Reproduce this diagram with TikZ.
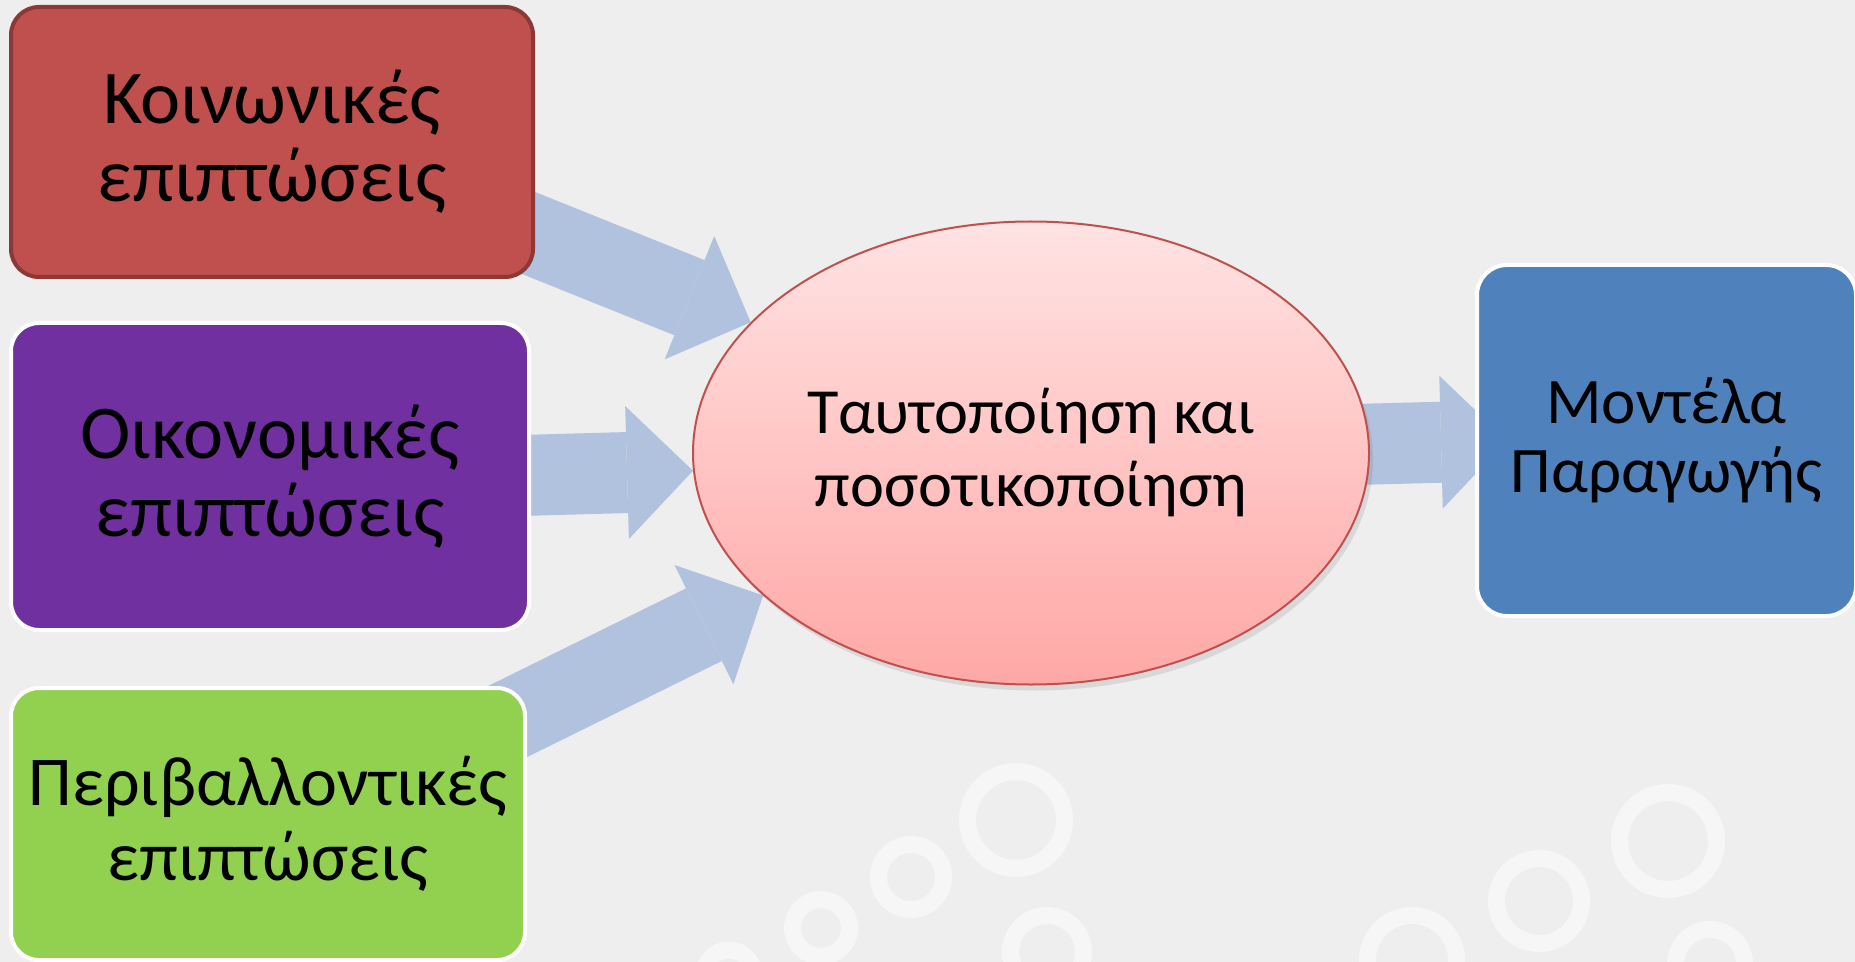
\documentclass[tikz,border=0pt]{standalone}
\usepackage{fontspec}
\setmainfont{Carlito}
\usetikzlibrary{arrows.meta,shapes.geometric,shadows,positioning}

\definecolor{pagebg}{HTML}{EEEEEE}
\definecolor{ringwhite}{HTML}{F6F6F6}
\definecolor{socred}{HTML}{C0504D}
\definecolor{socdark}{HTML}{8C3836}
\definecolor{ecopurple}{HTML}{7030A0}
\definecolor{envgreen}{HTML}{92D050}
\definecolor{modelblue}{HTML}{4F81BD}
\definecolor{arrowblue}{HTML}{B0C2DD}
\definecolor{identtop}{HTML}{FFE3E3}
\definecolor{identbot}{HTML}{FFA8A6}

\pgfdeclarelayer{bg}
\pgfdeclarelayer{back}
\pgfsetlayers{bg,back,main}

\begin{document}
\begin{tikzpicture}[x=0.5pt,y=-0.5pt,
    impact/.style={draw=white,line width=2pt,rounded corners=14pt,inner sep=0pt,
      align=center,font=\fontsize{38}{39}\selectfont},
    fat/.style={draw=arrowblue,line width=40.5pt,
      -{Triangle[length=33pt 0 0,width=66.5pt 0 0,line width=0pt 0 0]}},
    ring/.style={draw=ringwhite,line width=8.5pt}]
    \useasboundingbox (0,0) rectangle (1855,962);
    \node[impact,fill=socred,draw=socdark,minimum width=261pt,minimum height=135pt] (soc) at (272,142) {Κοινωνικές\\επιπτώσεις};
    \node[impact,fill=ecopurple,minimum width=259pt,minimum height=153.5pt] (eco) [below=21pt of soc,xshift=-1pt] {Οικονομικές\\επιπτώσεις};
    \node[impact,fill=envgreen,minimum width=257pt,minimum height=136pt,
        font=\fontsize{35}{37.5}\selectfont] (env) [below=27pt of eco,xshift=-1pt] {Περιβαλλοντικές\\επιπτώσεις};
    \node[ellipse,draw=socred,line width=1pt,inner sep=0pt,top color=identtop,bottom color=identbot,
        minimum width=338pt,minimum height=231.5pt,align=center,font=\fontsize{32.2}{36.5}\selectfont,
        drop shadow={opacity=0.2,shadow xshift=2pt,shadow yshift=-3pt}] (ident) at (1031,453) {Ταυτοποίηση και\\ποσοτικοποίηση};
    \node[impact,fill=modelblue,rounded corners=15pt,minimum width=189.5pt,minimum height=175.5pt,
        font=\fontsize{32.5}{34.5}\selectfont] (model) at (1666.5,440.5) {Μοντέλα\\Παραγωγής};
    % background and rings
    \begin{pgfonlayer}{bg}
        \fill[pagebg] (0,0) rectangle (1855,962);
        \foreach \cx/\cy/\r in {1016/820/48.5,911/877/32.5,821/928/28.5,729/975/25,1047/952/36.5,
            1668/841/48.5,1539/901/42.5,1412/960/44.5,1710/964/34.5}
            \draw[ring] (\cx,\cy) circle[radius=\r];
    \end{pgfonlayer}
    % arrows behind the shapes
    \begin{pgfonlayer}{back}
        \draw[fat] ([xshift=15pt]soc.center) -- (ident.155.6);
        \draw[fat] ([yshift=-3pt]eco.center) -- (ident.183);
        \draw[fat] ([xshift=16pt]env.center) -- (ident.208.8);
        \draw[fat] (ident.center) -- ([xshift=16pt]model.west);
    \end{pgfonlayer}
\end{tikzpicture}
\end{document}
